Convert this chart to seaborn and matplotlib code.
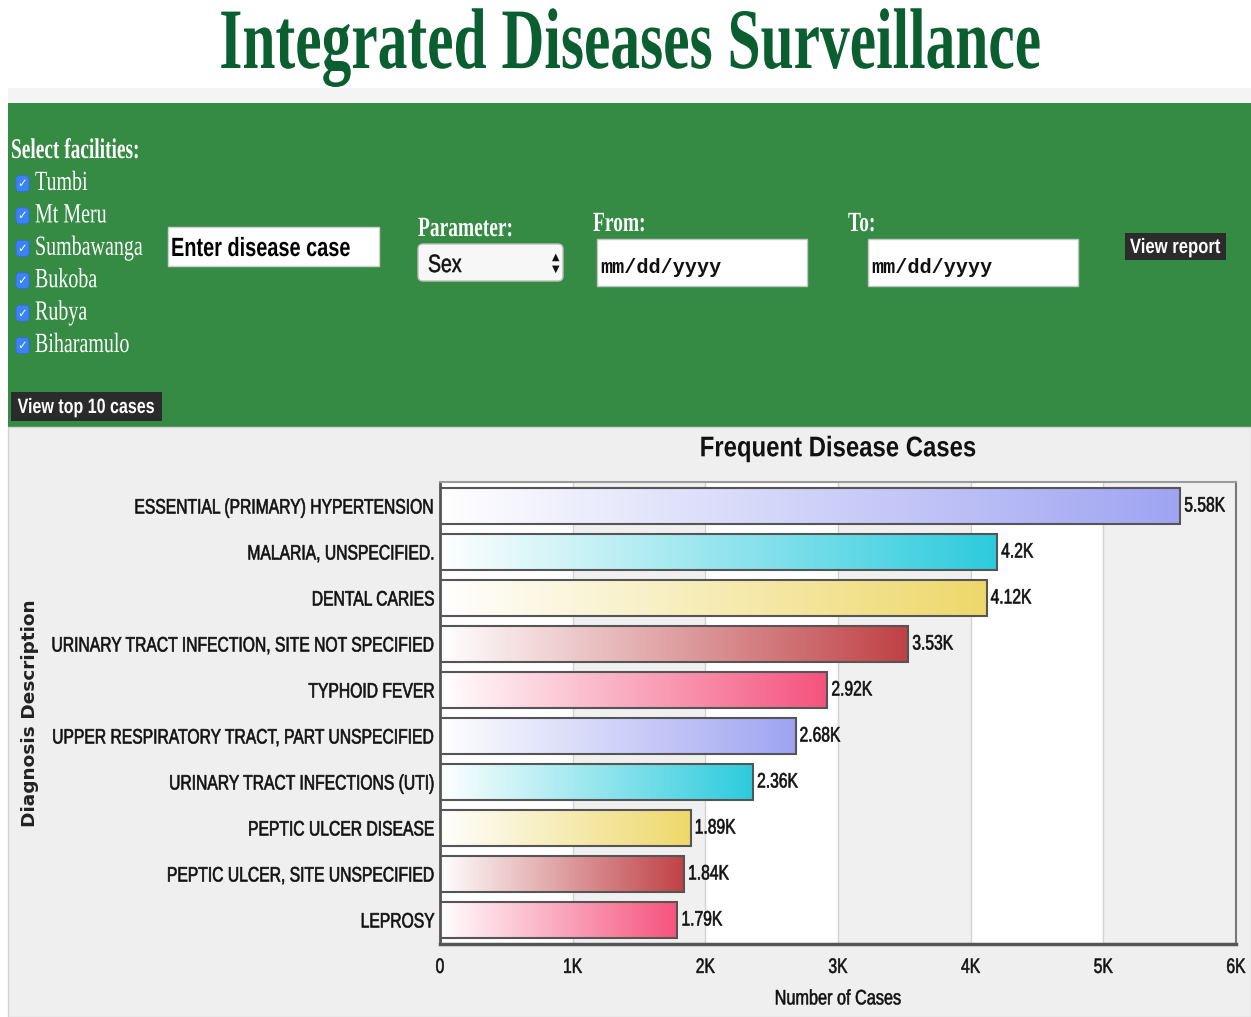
import numpy as np
import pandas as pd
import matplotlib
matplotlib.use("Agg")
import matplotlib.pyplot as plt
import seaborn as sns
from matplotlib.patches import Rectangle, FancyBboxPatch
from matplotlib.patheffects import AbstractPathEffect
from matplotlib.transforms import Affine2D, ScaledTranslation
from matplotlib.colors import LinearSegmentedColormap

# ---------------- data ----------------
diagnoses = [
    "ESSENTIAL (PRIMARY) HYPERTENSION",
    "MALARIA, UNSPECIFIED.",
    "DENTAL CARIES",
    "URINARY TRACT INFECTION, SITE NOT SPECIFIED",
    "TYPHOID FEVER",
    "UPPER RESPIRATORY TRACT, PART UNSPECIFIED",
    "URINARY TRACT INFECTIONS (UTI)",
    "PEPTIC ULCER DISEASE",
    "PEPTIC ULCER, SITE UNSPECIFIED",
    "LEPROSY",
]
cases = [5580, 4200, 4120, 3530, 2920, 2680, 2360, 1890, 1840, 1790]
value_labels = ["5.58K", "4.2K", "4.12K", "3.53K", "2.92K", "2.68K", "2.36K", "1.89K", "1.84K", "1.79K"]
bar_colors = ["#9fa4f2", "#2ccbdd", "#eed86a", "#bf4145", "#f5527d",
              "#9fa4f2", "#2ccbdd", "#eed86a", "#bf4145", "#f5527d"]
xticks = [0, 1000, 2000, 3000, 4000, 5000, 6000]
xtick_labels = ["0", "1K", "2K", "3K", "4K", "5K", "6K"]
facilities = ["Tumbi", "Mt Meru", "Sumbawanga", "Bukoba", "Rubya", "Biharamulo"]

plt.rcParams['font.family'] = ['Liberation Sans', 'DejaVu Sans']


class Squeeze(AbstractPathEffect):
    """Horizontally condense a text's glyphs around its anchor point (optionally embolden)."""
    def __init__(self, text, sx, stroke=0.0):
        super().__init__()
        self.text = text
        self.sx = sx
        self.stroke = stroke

    def draw_path(self, renderer, gc, tpath, affine, rgbFace=None):
        cx = self.text.get_transform().transform(self.text.get_position())[0]
        aff = affine + Affine2D().translate(-cx, 0).scale(self.sx, 1).translate(cx, 0)
        if self.stroke > 0 and rgbFace is not None:
            gc0 = renderer.new_gc()
            gc0.copy_properties(gc)
            gc0.set_linewidth(self.stroke)
            gc0.set_foreground(rgbFace)
            renderer.draw_path(gc0, tpath, aff, rgbFace)
            gc0.restore()
        else:
            renderer.draw_path(gc, tpath, aff, rgbFace)


def sq(t, sx, stroke=0.0):
    t.set_path_effects([Squeeze(t, sx, stroke)])
    return t


W, H = 1251, 1017
fig = plt.figure(figsize=(W / 100, H / 100), dpi=100, facecolor="white")

# ---------------- page background / form ----------------
bg = fig.add_axes([0, 0, 1, 1])
bg.set_xlim(0, W)
bg.set_ylim(H, 0)
bg.axis("off")

bg.add_patch(Rectangle((8, 88), W - 8, 15, fc="#f4f4f4", lw=0))
bg.add_patch(Rectangle((8, 103), W - 8, 324, fc="#358b44", lw=0))
bg.add_patch(Rectangle((8, 427), W - 8, H - 427, fc="#efefef", ec="#d4d4d4", lw=1))

serif = ["Liberation Serif", "DejaVu Serif"]
sans = ["Liberation Sans", "DejaVu Sans"]

sq(bg.text(630, 68, "Integrated Diseases Surveillance", fontsize=62, family=serif,
           fontweight="bold", color="#0b5e30", ha="center", va="baseline"), 0.69)

sq(bg.text(11, 158, "Select facilities:", fontsize=20.5, family=serif, fontweight="bold",
           color="white", ha="left", va="baseline"), 0.68)

for i, name in enumerate(facilities):
    yb = 190 + 32.4 * i
    bg.add_patch(FancyBboxPatch((16, yb - 14.5), 13, 16,
                                boxstyle="round,pad=0,rounding_size=3",
                                fc="#3b82f6", ec="#2f6fd8", lw=0.6))
    bg.text(22.5, yb - 6.5, "✓", fontsize=8.5, family=["DejaVu Sans"], color="white",
            ha="center", va="center")
    sq(bg.text(35, yb, name, fontsize=20, family=serif, color="white",
               ha="left", va="baseline"), 0.72)

# disease case box
bg.add_patch(Rectangle((168, 227), 211, 39, fc="white", ec="#cfcfcf", lw=1))
sq(bg.text(171, 256, "Enter disease case", fontsize=19, family=sans, fontweight="bold",
           color="black", ha="left", va="baseline"), 0.755)

# parameter select
sq(bg.text(418, 236, "Parameter:", fontsize=20, family=serif, fontweight="bold",
           color="white", ha="left", va="baseline"), 0.7)
bg.add_patch(FancyBboxPatch((418, 244), 145, 37, boxstyle="round,pad=0,rounding_size=5",
                            fc="#f7f7f7", ec="#bdbdbd", lw=1))
sq(bg.text(428, 272, "Sex", fontsize=18, family=sans, color="#111111",
           ha="left", va="baseline"), 0.78, 0.4)
bg.text(556, 257, "▲", fontsize=7, family=["DejaVu Sans"], color="#111111", ha="center", va="center")
bg.text(556, 269, "▼", fontsize=7, family=["DejaVu Sans"], color="#111111", ha="center", va="center")

# date fields
sq(bg.text(593, 231, "From:", fontsize=20, family=serif, fontweight="bold",
           color="white", ha="left", va="baseline"), 0.7)
sq(bg.text(848, 231, "To:", fontsize=20, family=serif, fontweight="bold",
           color="white", ha="left", va="baseline"), 0.7)
for x0 in (597, 868):
    bg.add_patch(Rectangle((x0, 239), 210, 47, fc="white", ec="#c4c4c4", lw=1))
    bg.text(x0 + 3, 273, "mm/dd/yyyy", fontsize=14.5, family=["Liberation Mono", "DejaVu Sans Mono"],
            fontweight="bold", color="#111111", ha="left", va="baseline")

# buttons
bg.add_patch(Rectangle((1125, 233), 101, 27, fc="#2b2b2b", lw=0))
sq(bg.text(1175.5, 253, "View report", fontsize=15, family=sans, fontweight="bold",
           color="white", ha="center", va="baseline"), 0.8)
bg.add_patch(Rectangle((11, 392), 151, 29, fc="#2b2b2b", lw=0))
sq(bg.text(86.5, 413, "View top 10 cases", fontsize=15, family=sans, fontweight="bold",
           color="white", ha="center", va="baseline"), 0.77)

# ---------------- chart ----------------
df = pd.DataFrame({"Diagnosis": diagnoses, "Cases": cases})
ax = fig.add_axes([440 / W, (H - 944) / H, 796 / W, 462 / H])
ax.set_facecolor("white")
sns.barplot(data=df, x="Cases", y="Diagnosis", hue="Diagnosis", palette=bar_colors,
            legend=False, orient="h", width=0.8, saturation=1, ax=ax,
            edgecolor="#555555", linewidth=1.5, zorder=3)

bars = list(ax.patches)
grad = np.linspace(0, 1, 256).reshape(1, -1)
for p in bars:
    fc = p.get_facecolor()
    cmap = LinearSegmentedColormap.from_list("g", ["white", fc])
    x0, y0 = p.get_x(), p.get_y()
    w, h = p.get_width(), p.get_height()
    im = ax.imshow(grad, cmap=cmap, extent=[x0, x0 + w, y0 + h, y0], aspect="auto",
                   zorder=2.5, interpolation="bilinear")
    im.set_clip_path(p)
    p.set_facecolor("none")

# interlaced background bands
for k in range(len(xticks) - 1):
    if k % 2 == 1:
        ax.axvspan(xticks[k], xticks[k + 1], color="#f0f0f0", lw=0, zorder=0)

ax.set_xlim(xticks[0], xticks[-1])
ax.set_ylim(len(diagnoses) - 0.478, -0.522)
ax.set_axisbelow(True)
ax.xaxis.grid(True, color="#d2d2d2", lw=1)
ax.yaxis.grid(False)
ax.set_xticks(xticks)
ax.set_xticklabels(xtick_labels)
ax.tick_params(axis="x", length=0, pad=10, labelsize=15, labelcolor="#111111")
ax.tick_params(axis="y", length=0, pad=3.6, labelsize=15, labelcolor="#111111")

for side, col, lw in (("left", "#555555", 2), ("bottom", "#555555", 2.5),
                      ("top", "#9a9a9a", 1.5), ("right", "#777777", 1.5)):
    ax.spines[side].set_color(col)
    ax.spines[side].set_linewidth(lw)
    ax.spines[side].set_visible(True)

off = ScaledTranslation(4 / 100, 0, fig.dpi_scale_trans)
for i, (v, lab) in enumerate(zip(cases, value_labels)):
    sq(ax.text(v, i, lab, transform=ax.transData + off, ha="left", va="center",
               fontsize=15, color="#111111", zorder=5), 0.75, 0.45)

ax.set_title("Frequent Disease Cases", fontsize=20.5, fontweight="bold", pad=18.5, color="#111111")
sq(ax.title, 0.84)
ax.set_xlabel("Number of Cases", fontsize=15, labelpad=9, color="#111111")
sq(ax.xaxis.label, 0.78, 0.4)
ax.set_ylabel("Diagnosis Description", fontsize=13.3, family=["DejaVu Sans"], fontweight="bold",
              color="#222222")
ax.yaxis.set_label_coords(-0.504, 0.5)

for t in ax.get_yticklabels():
    sq(t, 0.752, 0.45)
for t in ax.get_xticklabels():
    sq(t, 0.75, 0.4)

fig.savefig("out.png", dpi=100, facecolor="white")
